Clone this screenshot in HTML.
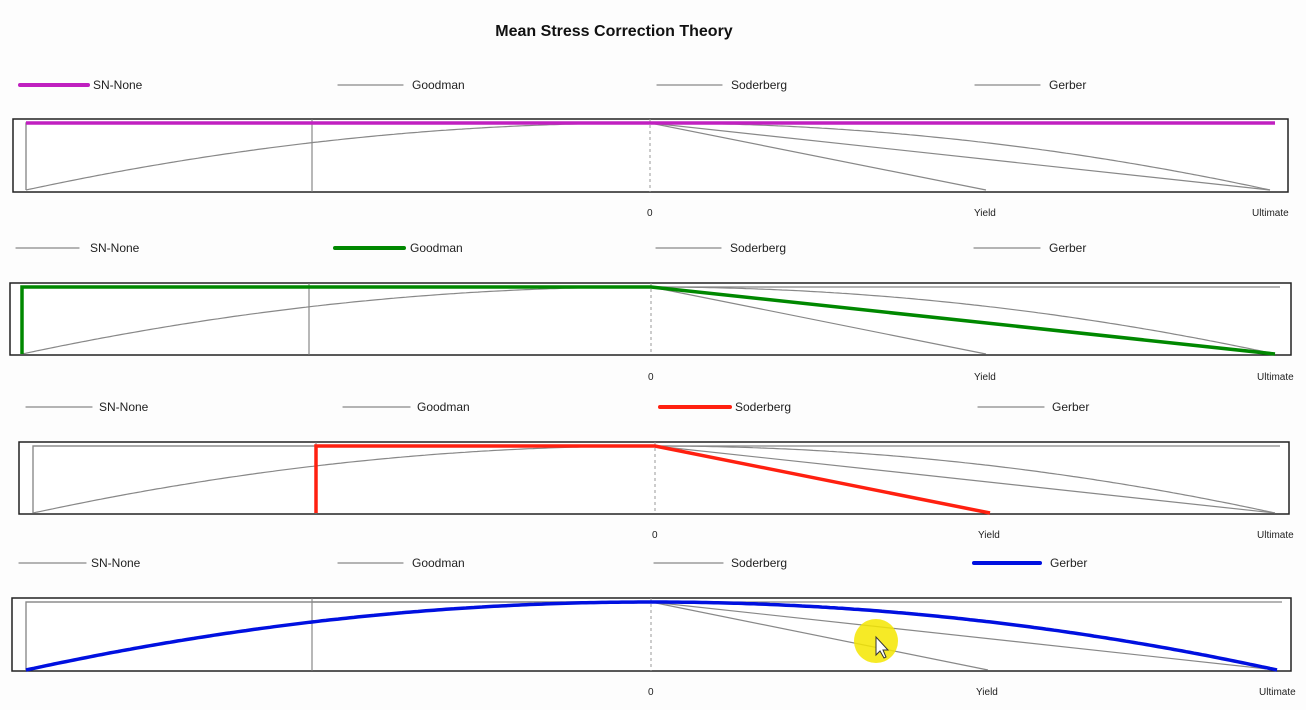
<!DOCTYPE html>
<html><head><meta charset="utf-8"><style>
html,body{margin:0;padding:0;background:#fff;width:1306px;height:710px;overflow:hidden}
svg{display:block;font-family:"Liberation Sans",sans-serif}
</style></head><body>
<svg id="s" width="1306" height="710" viewBox="0 0 1306 710">
<rect width="1306" height="710" fill="#fdfdfd"/>
<text x="614" y="36" font-size="16" font-weight="bold" text-anchor="middle" fill="#111">Mean Stress Correction Theory</text>
</svg>
<script>
var s=document.getElementById('s'),NS='http://www.w3.org/2000/svg';
function el(t,a,txt){var e=document.createElementNS(NS,t);for(var k in a)e.setAttribute(k,a[k]);if(txt)e.textContent=txt;s.appendChild(e);return e;}
var P=[
{b:[13,119,1288,192],top:123,bot:190,L:26,M:312,Z:650,Y:986,U:1270,ly:85,sw:[[20,88],[338,403],[657,722],[975,1040]],lx:[93,412,731,1049],ty:216,hl:0,c:'#c020c0'},
{b:[10,283,1291,355],top:287,bot:354,L:22,M:309,Z:651,Y:986,U:1275,ly:248,sw:[[16,79],[335,404],[656,721],[974,1040]],lx:[90,410,730,1049],ty:380,hl:1,c:'#008800'},
{b:[19,442,1289,514],top:446,bot:513,L:33,M:316,Z:655,Y:990,U:1275,ly:407,sw:[[26,92],[343,410],[660,730],[978,1044]],lx:[99,417,735,1052],ty:538,hl:2,c:'#ff2010'},
{b:[12,598,1291,671],top:602,bot:670,L:26,M:312,Z:651,Y:988,U:1277,ly:563,sw:[[19,86],[338,403],[654,723],[974,1040]],lx:[91,412,731,1050],ty:695,hl:3,c:'#0010e0'}];
var names=['SN-None','Goodman','Soderberg','Gerber'];
P.forEach(function(p){
 for(var i=0;i<4;i++){
  var h=i==p.hl;
  el('line',{x1:p.sw[i][0],x2:p.sw[i][1],y1:p.ly,y2:p.ly,stroke:h?p.c:'#888','stroke-width':h?4:1.2,'stroke-linecap':'round'});
  el('text',{x:p.lx[i],y:p.ly+4,'font-size':12,fill:'#222'},names[i]);
 }
 var b=p.b,H=p.bot-p.top;
 el('rect',{x:b[0],y:b[1],width:b[2]-b[0],height:b[3]-b[1],fill:'#fff',stroke:'#222','stroke-width':1.5});
 el('line',{x1:p.M,x2:p.M,y1:b[1],y2:b[3],stroke:'#777','stroke-width':1});
 el('line',{x1:p.Z,x2:p.Z,y1:b[1],y2:b[3],stroke:'#999','stroke-width':1,'stroke-dasharray':'3,3'});
 var g='';for(var x=p.L;x<=p.U;x+=4){var t=x<p.Z?(x-p.Z)/(p.L-p.Z):(x-p.Z)/(p.U-p.Z);g+=(g?'L':'M')+x+','+(p.top+H*t*t).toFixed(1);}
 g+='L'+p.U+','+p.bot;
 var snFull='M'+p.L+','+p.bot+'L'+p.L+','+p.top+'L'+(p.U+5)+','+p.top;
 var snH='M'+p.L+','+p.top+'L'+(p.U+5)+','+p.top;
 var gm='M'+p.L+','+p.bot+'L'+p.L+','+p.top+'L'+p.Z+','+p.top+'L'+p.U+','+p.bot;
 var sd='M'+p.M+','+p.bot+'L'+p.M+','+p.top+'L'+p.Z+','+p.top+'L'+p.Y+','+p.bot;
 var paths=[snFull,gm,sd,g];
 for(var i=0;i<4;i++) if(i!=p.hl) el('path',{d:paths[i],fill:'none',stroke:'#888','stroke-width':1.2});
 if(p.hl==0){el('path',{d:snFull,fill:'none',stroke:'#888','stroke-width':1.2});el('path',{d:snH,fill:'none',stroke:p.c,'stroke-width':3.5});}
 else el('path',{d:paths[p.hl],fill:'none',stroke:p.c,'stroke-width':3.5});
 el('text',{x:p.Z-3,y:p.ty,'font-size':10,fill:'#222'},'0');
 el('text',{x:p.Y-12,y:p.ty,'font-size':10,fill:'#222'},'Yield');
 el('text',{x:p.U-18,y:p.ty,'font-size':10,fill:'#222'},'Ultimate');
});
el('circle',{cx:876,cy:641,r:22,fill:'#f4e600',opacity:0.85});
el('path',{d:'M876,637 L876,655 L880,651 L884,658 L886,657 L883,650 L888,650 Z',fill:'#fff',stroke:'#333','stroke-width':1});
</script>
</body></html>
